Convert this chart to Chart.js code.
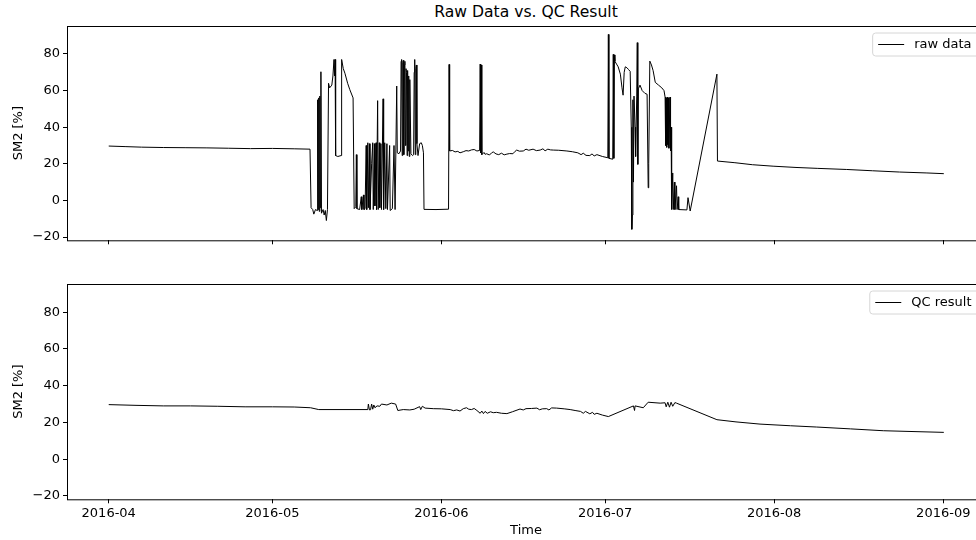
<!DOCTYPE html>
<html>
<head>
<meta charset="utf-8">
<script src="https://cdn.jsdelivr.net/npm/chart.js@4/dist/chart.umd.min.js"></script>
<style>
  html, body { margin: 0; padding: 0; background: #fff; }
  body { width: 976px; height: 540px; overflow: hidden; position: relative; }
  #title { position: absolute; top: 2px; left: 326px; width: 400px; text-align: center;
           font: 15.6px "DejaVu Sans"; color: #000; line-height: 20px; }
  canvas { position: absolute; left: 0; }
  #rawChart { top: 0; }
  #qcChart { top: 270px; }
</style>
</head>
<body>
<div id="title">Raw Data vs. QC Result</div>
<canvas id="rawChart" width="1100" height="270"></canvas>
<canvas id="qcChart" width="1100" height="270"></canvas>
<script>
// x values are days since 2016-04-01
const monthTicks = [0, 30, 61, 91, 122, 153];
const monthLabels = ['2016-04', '2016-05', '2016-06', '2016-07', '2016-08', '2016-09'];
const yTicks = [-20, 0, 20, 40, 60, 80];

const rawDays = [
  0, 3, 6, 10, 14, 18, 22, 26, 30, 34, 36.9,
  37.1, 37.4, 37.6, 37.9, 38.2, 38.3, 38.4, 38.5, 38.6, 38.7, 38.8, 38.9, 39.0, 39.3, 39.5, 39.7, 39.9, 40.1,
  40.3, 40.5, 40.9, 41.1, 41.3, 41.4, 41.5, 41.6, 42.0, 42.6, 42.7, 43.0, 43.3, 43.8, 44.2, 44.8,
  45.0, 45.3, 45.4, 45.5, 46.0, 46.3, 46.4, 46.7, 46.8, 47.0, 47.2, 47.3, 47.5, 47.6, 47.8, 47.9,
  48.2, 48.4, 48.5, 48.7, 48.8, 49.0, 49.1, 49.3, 49.4, 49.6, 49.7, 49.9, 50.0, 50.3, 50.4, 50.6,
  50.8, 51.0, 51.1, 51.5, 51.6, 52.0, 52.3, 52.5, 52.8,
  52.9, 53.2, 53.5, 53.6, 53.7, 53.8, 53.9, 54.0, 54.1, 54.2, 54.3, 54.4, 54.5, 54.6, 54.7, 54.8, 54.9,
  55.0, 55.1, 55.2, 55.4, 55.7, 55.9, 56.0, 56.1, 56.2, 56.3, 56.4, 56.5, 56.7, 57.0, 57.3, 57.5, 57.7,
  57.8, 60.0, 62.3, 62.4, 62.5, 63.0, 63.5, 64.0, 64.4, 65.0, 65.5, 66.0, 66.5, 67.0, 67.5, 68.0, 68.1, 68.2, 68.3, 68.4, 68.8, 69.0, 69.3, 69.8,
  70.2, 70.5, 71.0, 71.5, 72.0, 72.5, 73.0, 73.5, 74.1, 74.5, 74.8, 75.3, 76.0, 76.5, 77.0, 77.8, 78.4, 79.1, 79.6, 80.0, 80.5, 81.0, 81.5, 82.5,
  84.0, 85.0, 86.0, 86.6, 87.0, 87.5, 88.2, 88.6, 89.0, 89.5, 90.5, 91.5, 91.6, 91.7,
  92.4, 92.5, 92.6, 92.7, 92.8, 93.1, 93.4, 93.8, 94.1, 94.3, 94.5, 94.7, 95.0, 95.3, 95.6, 95.8, 95.9,
  96.0, 96.1, 96.2, 96.3, 96.5, 96.6, 96.8, 96.9, 97.0, 97.1, 97.4, 97.8, 98.3, 98.7, 98.9, 99.0, 99.2,
  99.5, 99.8, 100.2, 100.8, 101.4, 101.8, 102.0, 102.1, 102.2, 102.3, 102.4, 102.5, 102.6, 102.7, 102.9,
  103.0, 103.1, 103.2, 103.4, 103.5, 103.7, 103.8, 104.1, 104.2, 104.4, 104.5, 106.0, 106.2, 106.6,
  111.5, 111.6, 114.8, 118.0, 121.8, 126.0, 130.0, 135.3, 140.0, 145.0, 150.0, 153.1
];
const rawSM2 = [
  29.7, 29.4, 29.1, 28.9, 28.8, 28.7, 28.5, 28.3, 28.4, 28.2, 28.0,
  -4.0, -5.0, -7.5, -5.0, -5.5, 55.0, -5.0, 56.0, -6.0, 57.0, -4.0, 70.3, -7.0, -5.0, -8.0, -5.5, -11.0, -5.0,
  64.0, 61.5, 63.0, 68.0, 77.0, 68.0, 77.0, 24.5, 24.0, 24.5, 77.0, 72.0, 69.5, 64.0, 60.5, 56.0,
  -4.5, -3.5, 25.0, -4.5, -5.0, 2.0, -5.0, 3.0, -5.0, -4.5, 30.0, -5.0, 31.5, -4.0, 31.0, -5.0,
  20.0, 31.5, -5.0, 31.0, -3.0, 31.5, -5.0, 54.5, -5.0, 31.5, -4.0, 31.0, -5.0, 55.5, -5.0, 31.5,
  -4.5, 31.0, -5.0, 30.0, -5.5, -4.5, 30.0, -5.0, 62.5,
  26.0, 25.5, 27.0, 76.0, 77.0, 24.5, 75.5, 76.5, 25.0, 74.0, 76.0, 30.0, 72.0, 70.0, 24.5, 71.0, 27.0,
  68.0, 24.0, 66.0, 25.5, 24.5, 25.0, 70.0, 77.0, 25.0, 72.0, 74.0, 31.0, 24.5, 31.0, 31.5, 30.0, 26.0,
  -4.9, -5.0, -4.8, 74.3, 27.0, 27.3, 26.5, 26.8, 26.0, 26.6, 27.2, 27.0, 27.6, 27.8, 27.0, 27.3, 74.5, 26.0, 74.0, 25.0, 26.2, 25.2, 25.5, 24.8,
  26.0, 26.5, 25.4, 25.0, 25.8, 24.9, 25.3, 25.6, 25.5, 26.8, 27.5, 26.9, 27.0, 28.0, 27.4, 28.0, 27.2, 27.5, 28.2, 27.1, 28.0, 27.6, 27.5, 27.4,
  27.0, 26.6, 26.0, 25.0, 25.8, 24.6, 24.5, 25.4, 24.3, 25.0, 24.0, 23.3, 90.7, 23.0,
  22.5, 79.8, 23.0, 79.5, 76.0, 74.5, 73.0, 69.0, 61.5, 57.5, 70.0, 73.0, 72.5, 71.5, 70.5, 40.0, -15.8,
  -8.0, 55.0, 10.0, 57.0, 40.0, 24.0, 57.0, 86.2, 19.7, 61.0, 63.0, 60.0, 58.5, 58.0, 6.9, 20.0, 76.1,
  74.0, 71.0, 64.5, 63.0, 61.5, 60.0, 56.5, 30.0, 56.0, 29.0, 56.5, 30.5, 56.0, 28.5, 56.5,
  27.0, 40.0, -4.9, 15.0, -5.0, 10.0, -5.0, 8.0, -5.0, 2.0, -5.0, -5.2, 1.5, -5.8,
  69.0, 21.5, 20.6, 19.5, 18.7, 18.0, 17.5, 16.9, 16.2, 15.5, 15.0, 14.6
];

const qcDays = [
  0, 5, 10, 15, 20, 25, 30, 34, 37, 38.5, 47.5, 47.6, 47.8, 48.0, 48.2, 48.4, 48.6, 48.8, 49.2, 49.7,
  50.0, 51.0, 51.8, 52.6, 53.0, 54.0, 55.2, 56.0, 57.0, 57.2, 57.5,
  58.0, 59.5, 61.0, 62.6, 63.2, 63.8, 64.4, 65.0, 65.6, 66.0, 66.5, 67.0, 67.5, 68.1, 68.4, 68.7, 69.0, 69.4, 70.0, 70.5, 71.1, 72.0, 73.0, 74.0,
  75.4, 76.0, 76.5, 77.5, 78.5, 79.0, 79.5, 80.3, 80.7, 81.2, 82.1, 83.5, 84.6, 85.5, 86.5, 87.0, 87.4, 88.2, 88.7, 89.0, 89.5, 90.5, 91.6,
  96.2, 96.4, 96.5, 98.0, 98.9, 101.1, 102.0, 102.2, 102.5, 102.8, 103.1, 103.4, 103.8, 104.1,
  111.5, 115.0, 119.4, 125.0, 129.8, 136.0, 142.0, 148.0, 153.1
];
const qcSM2 = [
  29.7, 29.3, 29.0, 29.0, 28.8, 28.5, 28.5, 28.4, 28.0, 27.0, 27.0, 30.0, 26.8, 26.9, 30.0, 27.2, 29.5, 28.0, 29.0, 28.8,
  30.0, 29.5, 30.5, 30.0, 26.5, 27.0, 26.8, 27.2, 28.6, 27.0, 28.8,
  27.8, 27.5, 27.4, 27.0, 26.4, 26.8, 26.2, 27.5, 28.0, 27.2, 27.0, 27.6, 26.5, 25.0, 26.2, 24.8, 26.0, 25.0, 25.8, 25.3, 25.5, 25.0, 24.8, 25.8,
  27.3, 26.8, 27.5, 27.6, 27.8, 26.9, 27.4, 27.5, 26.8, 27.9, 27.8, 27.4, 27.0, 26.5, 26.0, 25.0, 26.0, 24.7, 25.5, 24.4, 25.0, 24.0, 23.2,
  29.0, 26.5, 29.0, 28.0, 31.0, 30.5, 30.7, 28.5, 31.0, 28.3, 31.0, 28.8, 30.8, 30.5,
  21.5, 20.3, 19.1, 18.2, 17.5, 16.5, 15.5, 15.0, 14.6
];

const FONT = 'DejaVu Sans';

// frame round the plot, like matplotlib spines
const frame = {
  id: 'frame',
  afterDraw(chart) {
    const { ctx, chartArea: a } = chart;
    ctx.save();
    ctx.strokeStyle = '#000';
    ctx.lineWidth = 1;
    ctx.strokeRect(a.left + 0.5, a.top + 0.5, a.right - a.left, a.bottom - a.top);
    ctx.restore();
  }
};

// upper right legend with a rounded box
const boxLegend = {
  id: 'boxLegend',
  afterDraw(chart) {
    const { ctx, chartArea: a } = chart;
    const label = chart.data.datasets[0].label;
    ctx.save();
    ctx.font = '13px "' + FONT + '"';
    const tw = ctx.measureText(label).width;
    const w = 6 + 26 + 10 + tw + 7;
    const h = 23;
    const x = a.right - 6.5 - w;
    const y = a.top + 6.5;
    ctx.beginPath();
    ctx.roundRect(x + 0.5, y + 0.5, w, h, 3);
    ctx.fillStyle = 'rgba(255,255,255,0.8)';
    ctx.fill();
    ctx.strokeStyle = '#d6d6d6';
    ctx.lineWidth = 1;
    ctx.stroke();
    ctx.beginPath();
    ctx.moveTo(x + 6, y + h / 2 + 0.5);
    ctx.lineTo(x + 32, y + h / 2 + 0.5);
    ctx.strokeStyle = '#000';
    ctx.stroke();
    ctx.fillStyle = '#000';
    ctx.textBaseline = 'middle';
    ctx.fillText(label, x + 42, y + h / 2 + 1);
    ctx.restore();
  }
};

function makeChart(id, label, days, values, showDates, padTop, xHeight) {
  const pts = days.map((d, i) => ({ x: d, y: values[i] }));
  return new Chart(document.getElementById(id), {
    type: 'line',
    data: {
      datasets: [{
        label: label,
        data: pts,
        borderColor: '#000',
        borderWidth: 1,
        pointRadius: 0,
        tension: 0,
        fill: false
      }]
    },
    options: {
      responsive: false,
      animation: false,
      devicePixelRatio: 1,
      layout: { padding: { top: padTop, left: 0, right: 115, bottom: 0 } },
      plugins: { legend: { display: false }, tooltip: { enabled: false } },
      scales: {
        x: {
          type: 'linear',
          min: -7.65,
          max: 160.65,
          afterBuildTicks: s => { s.ticks = monthTicks.map(v => ({ value: v })); },
          afterFit: s => { s.height = xHeight; },
          border: { display: false },
          grid: { drawOnChartArea: false, drawTicks: true, tickLength: 4, color: '#000' },
          ticks: {
            color: '#000',
            padding: 3,
            maxRotation: 0,
            font: { family: FONT, size: 13 },
            callback: v => showDates ? monthLabels[monthTicks.indexOf(v)] : ''
          },
          title: {
            display: showDates,
            text: 'Time',
            color: '#000',
            font: { family: FONT, size: 13 },
            padding: { top: 0, bottom: 2 }
          }
        },
        y: {
          min: -21.8,
          max: 95.3,
          afterBuildTicks: s => { s.ticks = yTicks.map(v => ({ value: v })); },
          afterFit: s => { s.width = 67; },
          border: { display: false },
          grid: { drawOnChartArea: false, drawTicks: true, tickLength: 4, color: '#000' },
          ticks: {
            color: '#000',
            padding: 3,
            font: { family: FONT, size: 13 },
            callback: v => v < 0 ? '\u2212' + Math.abs(v) : String(v)
          },
          title: {
            display: true,
            text: 'SM2 [%]',
            color: '#000',
            font: { family: FONT, size: 13 },
            padding: { top: 11, bottom: 0 }
          }
        }
      }
    },
    plugins: [frame, boxLegend]
  });
}

makeChart('rawChart', 'raw data', rawDays, rawSM2, false, 26, 29.7);
makeChart('qcChart', 'QC result', qcDays, qcSM2, true, 14, 40.7);
</script>
</body>
</html>
